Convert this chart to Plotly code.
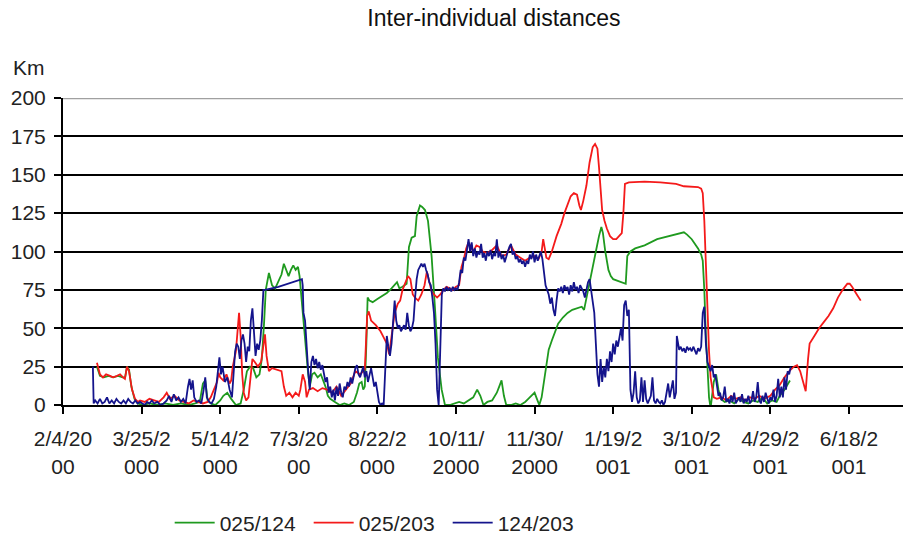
import pandas as pd
import plotly.graph_objects as go

# ---------------- data (days since 2000-02-04, distance in km) ----------------
start_date = "2000-02-04"

tick_dates = ["2000-02-04", "2000-03-25", "2000-05-14", "2000-07-03", "2000-08-22",
              "2000-10-11", "2000-11-30", "2001-01-19", "2001-03-10", "2001-04-29",
              "2001-06-18"]
tick_labels = ["2/4/20<br>00", "3/25/2<br>000", "5/14/2<br>000", "7/3/20<br>00",
               "8/22/2<br>000", "10/11/<br>2000", "11/30/<br>2000", "1/19/2<br>001",
               "3/10/2<br>001", "4/29/2<br>001", "6/18/2<br>001"]
y_ticks = [0, 25, 50, 75, 100, 125, 150, 175, 200]

# 025/124 (green)
days_025_124 = [21.6, 23.5, 26, 29, 32, 35, 38, 39.5, 40.7, 42, 43.5, 45.5, 47.5, 51, 55, 60, 65, 70,
                75, 80, 84, 87, 89, 90.5, 92, 94, 97, 100, 102, 104.5, 107, 110, 113, 115, 117, 119,
                121, 123, 125, 126.5, 128, 129, 131, 133, 135, 137, 139, 140.5, 142, 143.5, 145,
                146.5, 148, 149.5, 150.5, 152, 153, 154.5, 156, 157, 158.5, 160, 162, 164, 165.5,
                167, 168.5, 170, 173, 176, 179, 182, 185, 187, 188.5, 190, 191, 192, 193, 193.8,
                195, 197, 200, 203, 206, 209, 211, 212.5, 214, 216, 218.6, 220.1, 221.8, 223.9,
                225, 227.1, 228.5, 230.3, 232.2, 234.5, 236.6, 238.5, 240.9, 243, 246, 249, 252,
                255, 258, 261, 263.5, 265.5, 267.5, 270, 273, 276, 277.5, 279, 280.5, 282, 285,
                288, 291, 294, 296, 298, 300, 301.5, 303, 304.5, 306, 307.5, 309, 311, 313, 315,
                318, 321, 324, 327, 330, 331.5, 333, 335, 337, 339, 341, 342.5, 343.5, 345, 347,
                348.5, 350, 353, 356, 358, 359, 361, 364, 370, 378, 386, 393, 395, 397, 400, 404,
                406, 407, 408, 409, 410, 411, 412, 413, 414, 415.5, 417, 418.5, 421, 424, 427, 430,
                433, 436, 439, 442, 445, 448, 451, 454, 456, 459, 461, 462.5]
km_025_124 = [25, 19, 18, 19, 18, 19, 18, 18, 25, 23, 12, 4, 1, 0, 1, 0, 1, 0,
              1, 0, 1, 2, 14, 16, 3, 1, 0, 3, 6, 8, 4, 0, 1, 10, 22, 25,
              24, 18, 20, 30, 55, 75, 86, 78, 76, 80, 85, 92, 88, 84, 88,
              91, 88, 90, 84, 65, 55, 38, 20, 12, 20, 21, 18, 20, 16,
              12, 6, 4, 2, 0, 1, 0, 2, 8, 14, 15, 10, 12, 40, 70,
              68, 67, 69, 71, 73, 76, 78, 80, 76, 77, 79, 103, 109, 110,
              123, 130, 129, 127, 120, 97, 64, 31, 10, 0, 0, 1, 2,
              1, 3, 5, 10, 6, 0, 2, 3, 8, 12, 16, 6, 0, 0,
              1, 0, 2, 4, 6, 8, 4, 0, 5, 15, 28, 36, 42, 48, 53,
              57, 60, 62, 63, 64, 62, 70, 80, 90, 100, 110, 116, 112, 100, 88,
              84, 82, 81, 80, 79, 97, 100, 102, 104, 108, 110, 112, 112.5, 111, 108, 102,
              98, 94, 75, 45, 20, 5, -2, 5, 15, 20, 10, 4, 2, 3, 1, 4,
              2, 1, 3, 2, 5, 1, 3, 2, 6, 10, 13, 16]

# 025/203 (red)
days_025_203 = [21.6, 22.3, 23.5, 25.4, 27.4, 29.9, 31.8, 34.4, 36.3, 38.2, 39.4, 40.7, 42, 43.9,
                45.8, 47.7, 49, 52, 55, 58, 61, 64, 66, 68, 71, 74, 77, 80, 83, 86, 89, 92, 94, 96,
                98, 99, 100, 102, 104, 106, 107, 108, 110, 112, 113, 114, 115, 116.5, 118, 119.5,
                120.5, 122, 124, 126, 127.5, 128.5, 129.5, 131, 133, 136, 139, 140.5, 142, 144,
                146, 148, 150, 151, 152.5, 154, 155, 156.5, 159, 162, 165, 168, 171, 174, 177,
                180, 183, 186, 189, 192, 193.5, 194.5, 196, 199, 202, 204, 206, 207.5, 209, 211,
                213, 214.5, 216, 218, 219.5, 221, 222.5, 224, 226, 228, 230, 231.5, 233, 234.5,
                236, 238, 240, 242, 244, 246, 248, 250, 252, 253.5, 255, 256.5, 258, 259, 261,
                263, 265, 267, 270, 273, 276, 279, 282, 285, 288, 291, 294, 297, 300, 302.5,
                304.5, 305.5, 306.5, 307.5, 309, 311, 314, 317, 319, 321, 323, 325, 327, 328.5,
                329.5, 331, 333, 335, 337, 338.5, 340, 341, 342, 343, 344.5, 346, 348, 350, 352,
                354, 355.5, 356.5, 357.5, 360, 370, 380, 390, 395, 400, 404, 406, 407, 408, 409,
                410, 411, 412, 413, 414, 416, 419, 422, 425, 428, 431, 434, 437, 440, 443, 446,
                448, 450, 453, 456, 459, 462, 465, 467, 469, 471, 472.5, 474, 475, 478, 481, 484,
                487, 490, 493, 496, 499, 500.5, 502, 505, 507.5]
km_025_203 = [27.5, 24, 20, 18, 20, 19, 18, 19, 20, 18, 17, 25, 22, 10,
              4, 2, 3, 2, 4, 3, 2, 5, 8, 4, 6, 3, 2, 1, 3, 2, 1, 2, 5, 10,
              15, 21, 18, 16, 20, 14, 16, 25, 35, 60, 45, 20, 8, 3, 5, 20,
              30, 28, 25, 28, 40, 46, 32, 22, 24, 23, 22, 12, 6, 8,
              5, 8, 6, 10, 20, 15, 5, 10, 11, 9, 11, 10, 8, 12, 6,
              10, 14, 22, 20, 23, 58, 61, 55, 52, 48, 44, 40, 33, 45, 60,
              66, 68, 75, 80, 84, 82, 72, 70, 68, 72, 78, 87, 80, 74,
              72, 70, 72, 75, 77, 76, 75, 77, 78, 90, 95, 102, 106, 104, 100,
              104, 103, 100, 99, 101, 104, 97, 98, 104, 98, 96, 94, 96, 97, 95,
              100, 108, 103, 96, 95, 100, 110, 118, 125, 130, 136, 138, 137, 130,
              127, 133, 143, 158, 168, 170, 167, 155, 138, 127, 120, 115, 110, 108, 108,
              110, 112, 125, 144, 145, 145.5, 145, 144, 142.5, 142, 142, 141, 138, 120, 90,
              55, 35, 18, 10, 5, 4, 5, 3, 6, 4, 5, 3, 5, 4, 6, 4,
              5, 6, 10, 13, 18, 22, 25, 26, 22, 14, 9, 30, 40, 45, 50, 54,
              58, 63, 70, 75, 79, 79, 77, 72, 68]

# 124/203 (blue)
days_124_203 = [19, 19.5, 20.5, 22, 23.5, 25, 26.5, 28, 29.5, 31, 32.5, 34, 35.5, 37, 38.5, 40,
                41.5, 43, 44.5, 46, 47.5, 49, 50.5, 52, 53.5, 55, 56.5, 58, 60, 62, 64, 66, 67.5,
                69, 70.5, 72, 73.5, 75, 76.5, 78, 79.5, 80.5, 81.5, 82.5, 83.5, 85, 86.5, 88, 89.5,
                90.5, 91.5, 93, 94.5, 96, 97.5, 98.5, 99.5, 100.5, 101.5, 103, 104.5, 106, 107.5,
                108.5, 109.5, 110.5, 111.5, 112.5, 113.5, 114.5, 115.5, 116.5, 117.5, 118.5,
                119.5, 120.5, 121.5, 122.5, 123.5, 124.5, 125.5, 126.5, 127.5, 128.5, 137, 152,
                152.5, 153, 154, 155, 156, 157, 158, 159, 160, 161, 162, 163, 164, 165, 166, 167,
                168, 169, 170, 171, 172, 173, 174, 175, 176, 177, 178, 179, 180, 181, 182, 183,
                184, 185, 186, 187, 188, 189, 190, 191, 192, 193, 194, 195, 196, 197, 198, 199,
                200, 201, 202, 203, 204, 205, 206, 207, 208, 209, 210, 211, 212, 213, 214, 215,
                216, 217, 218, 219, 220, 221, 222, 223, 224, 225, 226, 227, 228, 229, 230, 231,
                232, 233, 234, 235, 236, 237, 238, 239, 240, 241, 242, 243, 244, 245, 246, 247,
                248, 249, 250, 251, 252, 253, 254, 255, 256, 257, 258, 259, 260, 261, 262, 263,
                264, 265, 266, 267, 268, 269, 270, 271, 272, 273, 274, 275, 276, 277, 278, 279,
                280, 281, 282, 283, 284, 285, 286, 287, 288, 289, 290, 291, 292, 293, 294, 295,
                296, 297, 298, 299, 300, 301, 302, 303, 304, 305, 306, 307, 308, 309, 310, 311,
                312, 313, 314, 315, 316, 317, 318, 319, 320, 321, 322, 323, 324, 325, 326, 327,
                328, 329, 330, 331, 332, 333, 334, 335, 336, 337, 338, 339, 340, 341, 342, 343,
                344, 345, 346, 347, 348, 349, 350, 351, 352, 353, 354, 355, 356, 357, 358, 359,
                360, 361, 362, 363, 364, 365, 366, 367, 368, 369, 370, 371, 372, 373, 374, 375,
                376, 377, 378, 379, 380, 381, 382, 383, 384, 385, 386, 387, 388, 389, 390, 390.5,
                391, 392, 393, 394, 395, 396, 397, 398, 399, 400, 401, 402, 403, 404, 405, 406,
                407, 408, 409, 410, 411, 412, 413, 414, 415, 416, 417, 418, 419, 420, 421, 422,
                423, 424, 425, 426, 427, 428, 429, 430, 431, 432, 433, 434, 435, 436, 437, 438,
                439, 440, 441, 442, 443, 444, 445, 446, 447, 448, 449, 450, 451, 452, 453, 454,
                455, 456, 457, 458, 459, 460, 461, 462, 463]
km_124_203 = [25, 1, 3, 1, 4, 1, 2, 5, 1, 3, 1, 4, 2, 1, 3, 1,
              4, 2, 1, 3, 1, 2, 1, 0, 2, 1, 3, 1, 2, 0, 1, 3, 6,
              2, 7, 3, 5, 2, 4, 1, 12, 17, 10, 16, 5, 2, 3, 1, 10,
              18, 5, 2, 1, 4, 12, 22, 31, 20, 25, 15, 18, 10, 5,
              20, 35, 40, 38, 30, 42, 46, 40, 28, 38, 35,
              55, 63, 45, 32, 40, 36, 42, 55, 75, 75, 77, 82,
              78, 60, 55, 35, 22, 10, 28, 32, 26, 30, 24, 28, 23, 26, 20, 15,
              18, 8, 12, 5, 10, 3, 12, 6, 14, 8, 5, 12, 10, 15, 12, 18,
              14, 20, 24, 26, 20, 18, 22, 25, 18, 22, 15, 20, 24, 18, 12, 15,
              8, 2, 0, 1, 0, 25, 45, 38, 32, 40, 55, 68, 55, 50, 52, 48,
              50, 52, 49, 60, 52, 48, 50, 55, 70, 82, 88, 90, 92, 90, 92, 88,
              85, 80, 78, 70, 60, 40, 10, 0, 40, 72, 76, 74, 77, 75, 76, 74,
              77, 75, 76, 75, 80, 88, 86, 96, 94, 102, 108, 100, 106, 97, 102, 96,
              100, 98, 105, 96, 99, 94, 100, 97, 101, 95, 99, 97, 108, 96, 100, 95,
              98, 93, 97, 100, 103, 105, 98, 100, 95, 97, 93, 95, 92, 94, 90, 94,
              92, 98, 95, 100, 93, 98, 94, 97, 100, 95, 88, 78, 75, 72, 66, 70,
              62, 58, 68, 76, 74, 77, 73, 78, 75, 77, 72, 78, 74, 80, 75, 77,
              73, 78, 76, 74, 70, 76, 80, 82, 75, 70, 60, 40, 20, 12, 30, 15,
              25, 18, 30, 22, 35, 28, 40, 33, 42, 38, 45, 50, 42, 65, 68, 58,
              62, 10, 2, 8, 22, 5, 1, 3, 18, 2, 16, 4, 1, 3, 6, 18,
              3, 1, 4, 2, 1, 3, 0, 2, 8, 14, 5, 12, 16, 4, 8, 45,
              42, 36, 38, 35, 37, 34, 38, 36, 37, 35, 38, 36, 33, 37, 35, 38,
              60, 64, 40, 28, 25, 22, 26, 18, 20, 12, 6, 8, 3, 5, 12, 2,
              4, 1, 6, 2, 8, 1, 3, 5, 2, 7, 1, 4, 2, 6, 1, 3,
              9, 2, 5, 15, 3, 1, 6, 2, 8, 4, 1, 5, 3, 10, 2, 6,
              17, 5, 12, 5, 18, 10, 22, 20, 25]

# ---------------- figure ----------------
base = pd.Timestamp(start_date)


def to_dates(days):
    return [base + pd.Timedelta(days=d) for d in days]


series = [
    ("025/124", days_025_124, km_025_124, "#1f9a1f"),
    ("025/203", days_025_203, km_025_203, "#f41a1a"),
    ("124/203", days_124_203, km_124_203, "#14148c"),
]

fig = go.Figure()
for name, dd, kk, col in series:
    fig.add_trace(go.Scatter(x=to_dates(dd), y=kk, mode="lines", name=name,
                             line=dict(color=col, width=1.8)))

font_family = "Liberation Sans, Arial, sans-serif"
x_end = base + pd.Timedelta(days=534.4)

fig.update_layout(
    width=903, height=536,
    margin=dict(l=63, r=0, t=98, b=131, autoexpand=False),
    paper_bgcolor="white", plot_bgcolor="white",
    font=dict(family=font_family, size=21, color="#222222"),
    title=dict(text="Inter-individual distances", x=0.547, xanchor="center",
               y=0.966, yanchor="middle", font=dict(size=23, color="#111111")),
    showlegend=True,
    legend=dict(orientation="h", x=0.127, xanchor="left", y=-0.384, yanchor="middle",
                font=dict(size=21, color="#222222"), bgcolor="rgba(0,0,0,0)",
                itemwidth=40, entrywidth=84, entrywidthmode="pixels"),
    xaxis=dict(type="date", range=[base, x_end], tickmode="array",
               tickvals=[pd.Timestamp(t) for t in tick_dates], ticktext=tick_labels,
               ticks="outside", ticklen=7, tickwidth=1.5, tickcolor="black",
               showline=True, linecolor="black", linewidth=2, showgrid=False,
               zeroline=False, ticklabelstandoff=7, tickfont=dict(size=21)),
    yaxis=dict(range=[0, 200], tickmode="array", tickvals=y_ticks,
               ticks="outside", ticklen=7, tickwidth=1.5, tickcolor="black",
               showline=True, linecolor="black", linewidth=2,
               showgrid=True, gridcolor="black", gridwidth=2, zeroline=False,
               ticklabelstandoff=4, tickfont=dict(size=21)),
    annotations=[dict(text="Km", xref="paper", yref="paper", x=-0.041, y=1.098,
                      xanchor="center", yanchor="middle", showarrow=False,
                      font=dict(size=21, color="#222222"))],
    shapes=[dict(type="line", xref="paper", yref="y", x0=0, x1=1, y0=200, y1=200,
                 line=dict(color="#a0a0a0", width=2.5), layer="above")],
)

fig.write_html("out.html", config={"displayModeBar": False},
               post_script="document.body.style.margin='0px';")
